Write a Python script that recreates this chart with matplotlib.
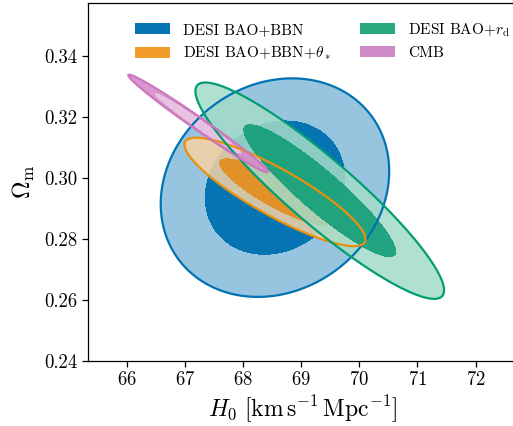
import numpy as np
import matplotlib
matplotlib.use("Agg")
import matplotlib.pyplot as plt
from matplotlib.patches import Patch

plt.rcParams['font.family'] = 'serif'
plt.rcParams['font.serif'] = ['cmr10', 'DejaVu Serif']
plt.rcParams['mathtext.fontset'] = 'cm'
plt.rcParams['axes.formatter.use_mathtext'] = True

# dataset summaries (Gaussian approximation)
labels = ['DESI BAO+BBN', r'DESI BAO+BBN+$\theta_*$', r'DESI BAO+$r_\mathrm{d}$', 'CMB']
h0_mean = [68.55, 68.55, 69.32, 67.23]
om_mean = [0.2968, 0.2954, 0.2958, 0.3178]
h0_sigma = [0.79, 0.626, 0.86, 0.484]
om_sigma = [0.0144, 0.00715, 0.01426, 0.00645]
corr = [0.15, -0.87, -0.92, -0.988]

line_colors = ['#0173b2', '#e8900f', '#029e73', '#cc78bc']
outer_colors = ['#97c4df', '#f7d3a4', '#a3dcc8', '#d48ccb']
inner_colors = ['#0673b3', '#e38c1a', '#129e76', '#ebc6e4']
outer_alpha = [1.0, 0.85, 0.85, 0.9]
inner_alpha = [1.0, 0.9, 0.9, 0.9]
legend_colors = ['#0673b3', '#f39c2a', '#29a87f', '#d08cc8']

xticks = [66, 67, 68, 69, 70, 71, 72]
yticks = [0.24, 0.26, 0.28, 0.30, 0.32, 0.34]

chi2_68 = 2.30
chi2_95 = 6.18

fig = plt.figure(figsize=(5.13, 4.26), dpi=100)
ax = fig.add_axes([0.1715, 0.1526, 0.838, 0.8404])

hh, oo = np.meshgrid(np.linspace(64.5, 73.5, 500), np.linspace(0.22, 0.37, 500))

chis = []
for i in range(4):
    dx = (hh - h0_mean[i]) / h0_sigma[i]
    dy = (oo - om_mean[i]) / om_sigma[i]
    r = corr[i]
    chi = (dx**2 - 2 * r * dx * dy + dy**2) / (1 - r**2)
    chis.append(chi)
    ax.contourf(hh, oo, chi, levels=[0, chi2_95], colors=[outer_colors[i]],
                alpha=outer_alpha[i], zorder=2 + i)
    ax.contourf(hh, oo, chi, levels=[0, chi2_68], colors=[inner_colors[i]],
                alpha=inner_alpha[i], zorder=2 + i)

for i in range(4):
    ax.contour(hh, oo, chis[i], levels=[chi2_95], colors=[line_colors[i]],
               linewidths=1.6, zorder=10 + (i == 3))

ax.set_xlim(65.335, 72.727)
ax.set_ylim(0.24, 0.3573)
ax.set_xticks(xticks)
ax.set_yticks(yticks)
ax.set_yticklabels(['%.2f' % v for v in yticks])
ax.tick_params(direction='out', length=4, width=0.9, labelsize=13.5,
               top=False, right=False)
for s in ax.spines.values():
    s.set_linewidth(0.9)

ax.set_xlabel(r'$H_0\ [\mathrm{km\,s^{-1}\,Mpc^{-1}}]$', fontsize=17, labelpad=3)
ax.set_ylabel(r'$\Omega_\mathrm{m}$', fontsize=17.5, labelpad=5)

handles = [Patch(facecolor=c, edgecolor='none') for c in legend_colors]
fig.legend(handles, labels, loc='upper left', bbox_to_anchor=(135 / 513, 1 - 21 / 426),
           ncol=2, frameon=False, fontsize=11, borderpad=0, borderaxespad=0,
           handlelength=2.3, handleheight=0.7, handletextpad=0.85,
           labelspacing=0.5, columnspacing=1.9)

fig.savefig('out.png', dpi=100)
